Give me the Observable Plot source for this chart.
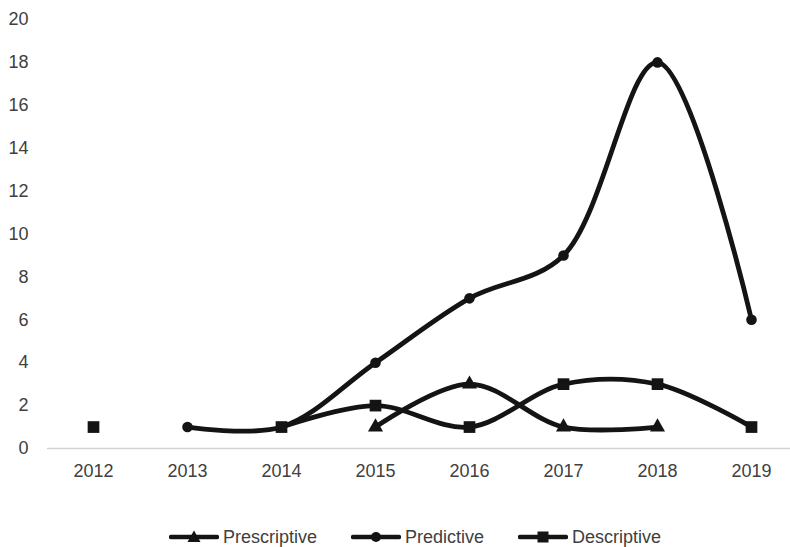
<!DOCTYPE html>
<html>
<head>
<meta charset="utf-8">
<script src="https://cdn.jsdelivr.net/npm/d3@7"></script>
<script src="https://cdn.jsdelivr.net/npm/@observablehq/plot@0.6"></script>
<style>
  body { margin: 0; background: white; font-family: "Liberation Sans", Arial, sans-serif; }
  #legend { display: flex; justify-content: center; align-items: center; height: 20px; padding-top: 27px; margin-left: 40px; font-size: 18px; color: #404040; }
  .item { display: flex; align-items: center; margin: 0 17px; }
  .item svg { margin-right: 4px; }
</style>
</head>
<body>
<div id="chart"></div>
<div id="legend"></div>
<script>
const years = ["2012", "2013", "2014", "2015", "2016", "2017", "2018", "2019"];
const prescriptive = [null, null, null, 1, 3, 1, 1, null];
const predictive = [null, 1, 1, 4, 7, 9, 18, 6];
const descriptive = [1, null, 1, 2, 1, 3, 3, 1];
const yTicks = [0, 2, 4, 6, 8, 10, 12, 14, 16, 18, 20];

const seriesDefs = [
  { name: "Prescriptive", values: prescriptive, symbol: "triangle", r: 5.6 },
  { name: "Predictive", values: predictive, symbol: "circle", r: 5.3 },
  { name: "Descriptive", values: descriptive, symbol: "square", r: 6.6 }
];

const ink = "#141414";
const marks = [
  Plot.ruleY([0], { stroke: "#d4d4d4", strokeWidth: 1.5 }),
  Plot.axisY({ ticks: yTicks, tickSize: 0, tickPadding: 19, fill: "#404040" }),
  Plot.axisX({ tickSize: 0, tickPadding: 16, fill: "#404040" })
];
for (const s of seriesDefs) {
  const rows = years.map((y, i) => ({ year: y, value: s.values[i] == null ? NaN : s.values[i] }));
  marks.push(Plot.line(rows, { x: "year", y: "value", curve: "catmull-rom", stroke: ink, strokeWidth: 4.8 }));
  marks.push(Plot.dot(rows.filter(d => !isNaN(d.value)), { x: "year", y: "value", symbol: s.symbol, r: s.r, fill: ink, stroke: "none" }));
}

const chart = Plot.plot({
  width: 790,
  height: 500,
  marginLeft: 47,
  marginRight: 0,
  marginTop: 19,
  marginBottom: 52,
  style: { fontFamily: "'Liberation Sans', Arial, sans-serif", fontSize: "18px", color: "#404040", background: "white", overflow: "visible" },
  x: { type: "point", domain: years, range: [93, 751], padding: 0, align: 0.5, label: null },
  y: { domain: [0, 20], label: null },
  marks
});
document.getElementById("chart").appendChild(chart);

const legend = document.getElementById("legend");
const icons = {
  triangle: '<path d="M25,3.5 L31.5,15 L18.5,15 Z" fill="' + ink + '"/>',
  circle: '<circle cx="25" cy="10" r="5" fill="' + ink + '"/>',
  square: '<rect x="19.5" y="4.5" width="11" height="11" fill="' + ink + '"/>'
};
for (const s of seriesDefs) {
  const div = document.createElement("div");
  div.className = "item";
  div.innerHTML = '<svg width="50" height="20"><line x1="2" y1="10" x2="48" y2="10" stroke="' + ink + '" stroke-width="4.5" stroke-linecap="round"/>' + icons[s.symbol] + '</svg><span>' + s.name + '</span>';
  legend.appendChild(div);
}
</script>
</body>
</html>
